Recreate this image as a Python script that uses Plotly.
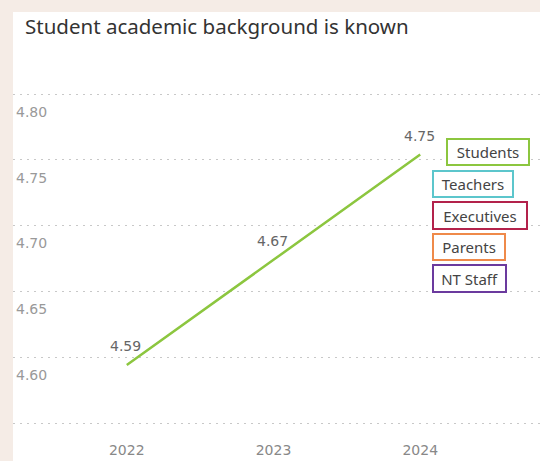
import plotly.graph_objects as go

years = [2022, 2023, 2024]
students = [4.594, 4.674, 4.754]
y_ticks = [4.55, 4.60, 4.65, 4.70, 4.75, 4.80]
y_tick_text = ["", "4.60", "4.65", "4.70", "4.75", "4.80"]
legend_names = ["Students", "Teachers", "Executives", "Parents", "NT Staff"]
legend_colors = ["#8cc63f", "#5cc6cc", "#b3224b", "#ef8a4a", "#6b3a9e"]

W, H = 540, 461
L, R, T, B = 13, 0, 60, 29  # plot area: x 13..540, y 60..432
pw = W - L - R
ph = H - T - B

def px_x(x):
    return (x - L) / pw

def px_y(y):
    return (H - B - y) / ph

fig = go.Figure()
fig.add_trace(go.Scatter(
    x=years, y=students, mode="lines",
    line=dict(color="#8cc63f", width=2.5, shape="spline"),
    hoverinfo="skip", showlegend=False,
))

for xv, yv in zip(years, students):
    fig.add_annotation(x=xv, y=yv, text=f"{yv:.2f}", showarrow=False,
                       yshift=19, xshift=-1,
                       font=dict(size=14, color="#666666", family="DejaVu Sans"))

# white panel
fig.add_shape(type="rect", xref="paper", yref="paper",
              x0=px_x(13), x1=px_x(545), y0=px_y(470), y1=px_y(12),
              fillcolor="white", line=dict(width=0), layer="below")

boxes = [(446, 138, 84, 28), (432, 170, 82, 28), (432, 201, 96, 29),
         (432, 233, 74, 28), (432, 264, 75, 29)]
for name, col, (bx, by, bw, bh) in zip(legend_names, legend_colors, boxes):
    fig.add_annotation(
        xref="paper", yref="paper", x=px_x(bx), y=px_y(by),
        xanchor="left", yanchor="top", text=name, showarrow=False,
        font=dict(size=15, color="#444444", family="Noto Sans"),
        bordercolor=col, borderwidth=2, borderpad=0, bgcolor="white",
        width=bw - 4, height=bh - 4, align="center", valign="middle",
    )

fig.update_layout(
    width=W, height=H,
    margin=dict(l=L, r=R, t=T, b=B),
    paper_bgcolor="#f5ece6", plot_bgcolor="white",
    title=dict(text="Student academic background is known",
               xref="container", yref="container",
               x=25 / W, xanchor="left", y=1 - 27 / H, yanchor="middle",
               font=dict(size=20.5, color="#333333", family="Noto Sans")),
    xaxis=dict(range=[2022 - 114 / 147, 2024 + 120 / 147],
               tickvals=years, ticktext=[str(y) for y in years],
               showgrid=False, zeroline=False, showline=False,
               ticklabelstandoff=8,
               tickfont=dict(size=14, color="#888888", family="DejaVu Sans")),
    yaxis=dict(range=[4.55 - 9 / 1316, 4.80 + 34 / 1316],
               tickvals=y_ticks, ticktext=y_tick_text,
               ticklabelposition="inside bottom", ticklabelshift=8,
               showgrid=True, gridcolor="#c8c8c8", griddash="2px,5px", gridwidth=1,
               zeroline=False, showline=False,
               tickfont=dict(size=14, color="#999999", family="DejaVu Sans")),
)

fig.write_html("out.html", config={"displayModeBar": False},
               post_script="document.body.style.margin='0';")
